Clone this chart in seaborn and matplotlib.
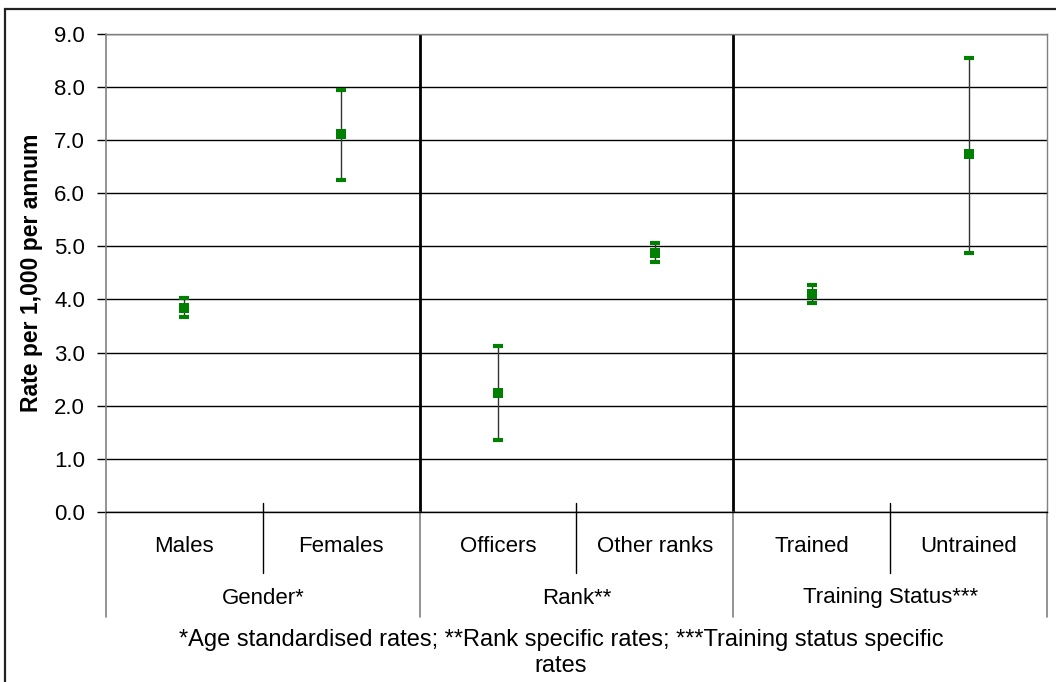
import matplotlib
matplotlib.use("Agg")
import matplotlib.pyplot as plt
import matplotlib.patches as mpatches
import seaborn as sns
import pandas as pd

# Rates per 1,000 per annum with 95% confidence limits
categories = ["Males", "Females", "Officers", "Other ranks", "Trained", "Untrained"]
groups = ["Gender*", "Rank**", "Training Status***"]
group_sizes = [2, 2, 2]
rates = [3.84, 7.11, 2.23, 4.88, 4.11, 6.73]
lower = [3.67, 6.24, 1.36, 4.71, 3.93, 4.88]
upper = [4.02, 7.95, 3.13, 5.06, 4.28, 8.54]
yticks = [0.0, 1.0, 2.0, 3.0, 4.0, 5.0, 6.0, 7.0, 8.0, 9.0]
footnote = "*Age standardised rates; **Rank specific rates; ***Training status specific\nrates"

sns.set_theme(style="white")
plt.rcParams["font.family"] = ["Liberation Sans", "DejaVu Sans"]
plt.rcParams["text.color"] = "black"
plt.rcParams["axes.labelcolor"] = "black"
plt.rcParams["ytick.color"] = "black"

df = pd.DataFrame({"category": categories, "rate": rates, "lo": lower, "hi": upper})
df["pos"] = range(len(df))

W, H = 1056, 682
PX = 0.72  # points per pixel at 100 dpi
fig = plt.figure(figsize=(W / 100, H / 100), dpi=100)
ax = fig.add_axes([106 / W, 1 - 512 / H, (1047 - 106) / W, (512 - 33.7) / H])

green = "#008000"
fs = 16

# confidence interval whiskers
ax.vlines(df["pos"], df["lo"], df["hi"], color="#333333", lw=1.0, zorder=3)
cap = 0.032
for col in ("lo", "hi"):
    ax.hlines(df[col], df["pos"] - cap, df["pos"] + cap, color=green, lw=3, zorder=4)

sns.scatterplot(data=df, x="pos", y="rate", marker="s", s=42, color=green,
                edgecolor=green, linewidth=0, zorder=5, ax=ax, legend=False)

ax.set_xlim(-0.5, len(categories) - 0.5)
ax.set_ylim(0, 9)
ax.set_yticks(yticks)
ax.set_yticklabels([f"{v:.1f}" for v in yticks], fontsize=fs)
ax.set_xticks([])
ax.set_xlabel("")
ax.set_ylabel("Rate per 1,000 per annum", fontsize=16.5, fontweight="bold")
ax.yaxis.set_label_coords(-0.067, 0.5)

ax.grid(axis="y", color="black", lw=1.0, zorder=1)
ax.tick_params(axis="y", direction="out", length=9 * PX, width=1, color="black",
               pad=12 * PX, left=True)
for side in ("top", "right"):
    ax.spines[side].set_color("#808080")
    ax.spines[side].set_linewidth(1)
ax.spines["bottom"].set_color("black")
ax.spines["bottom"].set_linewidth(1)
ax.spines["left"].set_visible(False)

xt = ax.get_xaxis_transform()
ax_h = 512 - 33.7
def frac(ypx):
    return (512 - ypx) / ax_h

# group separators inside the plot
bounds = [-0.5]
for n in group_sizes:
    bounds.append(bounds[-1] + n)
for b in bounds[1:-1]:
    ax.plot([b, b], [0, 1], transform=xt, color="black", lw=2, zorder=2)

# left axis line running down through the category table
ax.plot([-0.5, -0.5], [frac(617), 1], transform=xt, color="#808080", lw=1.2, clip_on=False)
# group boundary lines below the axis
for b in bounds[1:]:
    ax.plot([b, b], [frac(617), 0], transform=xt, color="#808080", lw=1.2, clip_on=False)

# category separators within each group
start = -0.5
for n in group_sizes:
    for k in range(1, n):
        ax.plot([start + k, start + k], [frac(573), frac(503)], transform=xt,
                color="black", lw=1, clip_on=False)
    start += n

# category labels
for i, c in enumerate(categories):
    ax.text(i, frac(547), c, transform=xt, ha="center", va="center", fontsize=fs)
# group labels
for g, lo_b, hi_b in zip(groups, bounds[:-1], bounds[1:]):
    ax.text((lo_b + hi_b) / 2, frac(598), g, transform=xt, ha="center", va="center",
            fontsize=fs)

# footnote
fig.text(561 / W, 1 - 653 / H, footnote, ha="center", va="center", fontsize=17,
         linespacing=1.25)

# chart frame
fig.patches.append(mpatches.Rectangle((5 / W, -0.02), 1.1, 1 - 9 / H + 0.02, fill=False,
                                      edgecolor="#222222", lw=1.6, transform=fig.transFigure))

fig.savefig("out.png", dpi=100)
